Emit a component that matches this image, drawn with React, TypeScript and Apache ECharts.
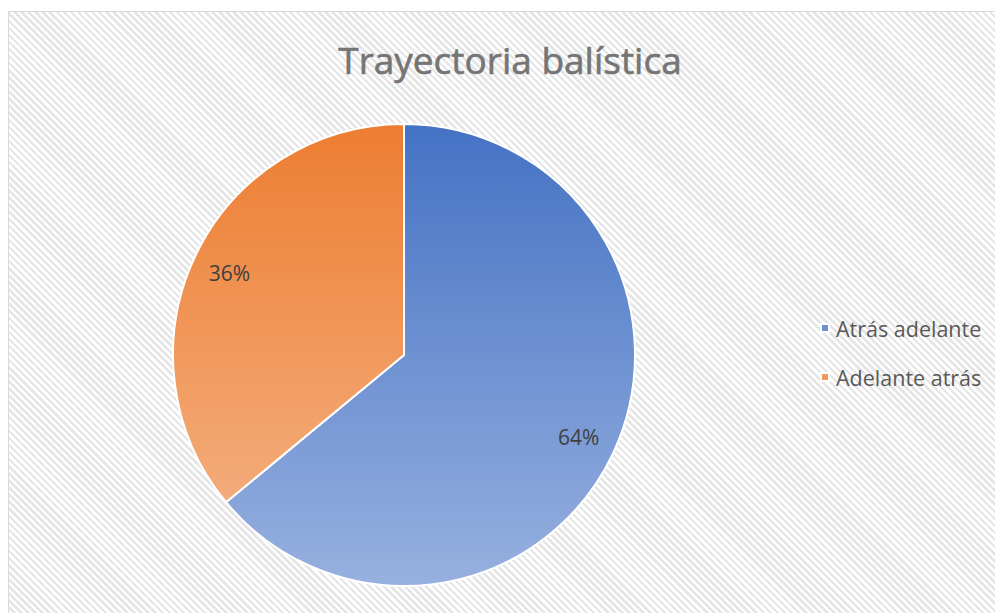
import React, { useEffect, useRef } from "react";
import * as echarts from "echarts";

const titleText = "Trayectoria balística";
const categories = ["Atrás adelante", "Adelante atrás"];
const values = [64, 36];
const topColors = ["#4472C4", "#ED7D31"];
const bottomColors = ["#97B0DF", "#F5B68A"];
const legendColors = ["#6F91D2", "#F19A5D"];

export default function App() {
  const ref = useRef<HTMLDivElement>(null);
  useEffect(() => {
    if (!ref.current) return;
    const chart = echarts.init(ref.current, null, { renderer: "svg" });
    const cx = 395;
    const cy = 343;
    const R = 231;
    const data = categories.map((name, i) => ({
      name,
      value: values[i],
      itemStyle: {
        color: {
          type: "linear",
          x: 0,
          y: cy - R,
          x2: 0,
          y2: cy + R,
          global: true,
          colorStops: [
            { offset: 0, color: topColors[i] },
            { offset: 1, color: bottomColors[i] },
          ],
        },
      },
    }));
    chart.setOption({
      animation: false,
      title: {
        text: titleText,
        left: 496,
        top: 24,
        textAlign: "center",
        textStyle: {
          fontFamily: "Open Sans",
          fontSize: 37,
          fontWeight: "normal",
          color: "#757575",
          textBorderColor: "#757575",
          textBorderWidth: 0.6,
        },
      },
      legend: {
        orient: "vertical",
        left: 806,
        top: 300,
        itemWidth: 8,
        itemHeight: 8,
        itemGap: 27,
        icon: "rect",
        data: categories.map((name, i) => ({ name, itemStyle: { color: legendColors[i] } })),
        textStyle: { fontFamily: "Open Sans", fontSize: 21.5, color: "#595959", padding: [0, 0, 0, 2] },
      },
      series: [
        {
          type: "pie",
          center: [cx, cy],
          radius: [0, R],
          startAngle: 90,
          clockwise: true,
          data,
          label: { show: false },
          labelLine: { show: false },
          itemStyle: { borderColor: "#ffffff", borderWidth: 2 },
          emphasis: { disabled: true },
        },
        {
          type: "pie",
          center: [cx, cy],
          radius: [0, 380],
          startAngle: 90,
          clockwise: true,
          silent: true,
          data: categories.map((name, i) => ({ name, value: values[i] })),
          itemStyle: { color: "rgba(0,0,0,0)" },
          label: {
            show: true,
            position: "inside",
            formatter: "{d}%",
            fontFamily: "Open Sans",
            fontSize: 21,
            color: "#404040",
          },
          labelLine: { show: false },
          emphasis: { disabled: true },
        },
      ],
    });
    return () => chart.dispose();
  }, []);
  return (
    <div
      ref={ref}
      style={{
        marginTop: 3,
        width: 995,
        height: 602,
        boxSizing: "border-box",
        borderTop: "1px solid #d9d9d9",
        borderLeft: "1px solid #d9d9d9",
        background:
          "repeating-linear-gradient(45deg, #ffffff 0px, #ffffff 2.5px, #e6e6e6 2.5px, #e6e6e6 5px)",
      }}
    />
  );
}
